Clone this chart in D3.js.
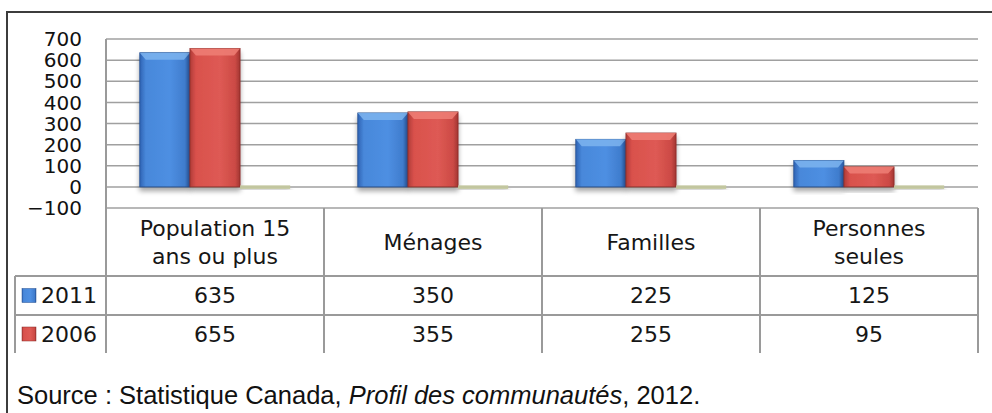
<!DOCTYPE html>
<html>
<head>
<meta charset="utf-8">
<script src="https://cdn.jsdelivr.net/npm/d3@7"></script>
<style>
  body { margin: 0; background: #fff; }
  svg { display: block; }
</style>
</head>
<body>
<div id="chart"></div>
<script>
// donnees
var categories = ["Population 15\nans ou plus", "Ménages", "Familles", "Personnes\nseules"];
var annees = ["2011", "2006"];
var valeurs2011 = [635, 350, 225, 125];
var valeurs2006 = [655, 355, 255, 95];
var valeursVide = [0, 0, 0, 0];   // troisieme serie vide (trait plat)
var yTicks = [-100, 0, 100, 200, 300, 400, 500, 600, 700];

var W = 992, H = 413;
var plot = {left: 106, right: 978, top: 39, bottom: 208};
var rowHead = 276, row1 = 315, row2 = 353, legLeft = 15;

var svg = d3.select("#chart").append("svg")
  .attr("width", W).attr("height", H);

var defs = svg.append("defs");

function grad(id, stops) {
  var g = defs.append("linearGradient").attr("id", id)
    .attr("x1", "0%").attr("x2", "100%").attr("y1", "0%").attr("y2", "0%");
  stops.forEach(function(s) {
    g.append("stop").attr("offset", s[0]).attr("stop-color", s[1]);
  });
}
grad("gBleu", [[0, "#2f63b4"], [0.12, "#4888da"], [0.6, "#4e8fe2"], [0.9, "#3f7ccd"], [1, "#2a5aa3"]]);
grad("gRouge", [[0, "#b03c38"], [0.12, "#d9514c"], [0.6, "#de5a54"], [0.9, "#cc4a45"], [1, "#a23531"]]);

var f = defs.append("filter").attr("id", "ombre")
  .attr("x", "-20%").attr("y", "-20%").attr("width", "140%").attr("height", "150%");
f.append("feGaussianBlur").attr("in", "SourceAlpha").attr("stdDeviation", 2.5);
f.append("feOffset").attr("dx", 0).attr("dy", 4).attr("result", "b");
f.append("feComponentTransfer").append("feFuncA").attr("type", "linear").attr("slope", 0.35);
var m = f.append("feMerge");
m.append("feMergeNode");
m.append("feMergeNode").attr("in", "SourceGraphic");

// fond
svg.append("rect").attr("width", W).attr("height", H).attr("fill", "#fff");

// cadre exterieur
svg.append("path")
  .attr("d", "M7,413 L7,12 L992,12")
  .attr("fill", "none").attr("stroke", "#3c3c3c").attr("stroke-width", 2);

// echelles
var y = d3.scaleLinear().domain([-100, 700]).range([plot.bottom, plot.top]);
var x = d3.scaleBand().domain(d3.range(categories.length))
  .range([plot.left, plot.right]).paddingInner(0).paddingOuter(0);
var groupe = x.bandwidth() * 0.69;
var xs = d3.scaleBand().domain([0, 1, 2]).range([0, groupe]).padding(0);
function xCat(j) { return x(j) + (x.bandwidth() - groupe) / 2; }

// quadrillage
svg.append("g").selectAll("line").data(yTicks).join("line")
  .attr("x1", plot.left).attr("x2", plot.right)
  .attr("y1", function(d) { return y(d); }).attr("y2", function(d) { return y(d); })
  .attr("stroke", "#a0a0a0").attr("stroke-width", 1.5);

// etiquettes axe y
svg.append("g").selectAll("text").data(yTicks).join("text")
  .attr("x", 82).attr("y", function(d) { return y(d); })
  .attr("dy", "0.36em").attr("text-anchor", "end")
  .attr("font-family", "DejaVu Sans").attr("font-size", 20)
  .attr("fill", "#111")
  .text(function(d) { return d < 0 ? "\u2212" + Math.abs(d) : d; });

// barres
var series = [
  {vals: valeurs2011, fill: "url(#gBleu)", haut: "#7db4ef", bord: "#244f8f"},
  {vals: valeurs2006, fill: "url(#gRouge)", haut: "#ee7f76", bord: "#8c2c29"}
];
var gBars = svg.append("g");
series.forEach(function(s, i) {
  s.vals.forEach(function(v, j) {
    var x0 = xCat(j) + xs(i), bw = xs.bandwidth();
    var y0 = y(v), y1 = y(0);
    var g = gBars.append("g").attr("filter", "url(#ombre)");
    g.append("rect")
      .attr("x", x0).attr("y", y0).attr("width", bw).attr("height", y1 - y0)
      .attr("fill", s.fill).attr("stroke", s.bord).attr("stroke-width", 0.8);
    var b = Math.min(7, (y1 - y0) / 3);
    g.append("path")
      .attr("d", "M" + x0 + "," + y0 + " L" + (x0 + bw) + "," + y0 +
        " L" + (x0 + bw - 6) + "," + (y0 + b) + " L" + (x0 + 6) + "," + (y0 + b) + "Z")
      .attr("fill", s.haut).attr("opacity", 0.85);
  });
});
// serie vide
valeursVide.forEach(function(v, j) {
  var x0 = xCat(j) + xs(2);
  gBars.append("rect").attr("filter", "url(#ombre)")
    .attr("x", x0).attr("y", y(v) - 1.5).attr("width", xs.bandwidth()).attr("height", 3.5)
    .attr("fill", "#c2c69f");
});

// tableau de donnees
var lignes = svg.append("g").attr("stroke", "#9a9a9a").attr("stroke-width", 2);
lignes.append("line").attr("x1", plot.left).attr("x2", plot.left).attr("y1", plot.top).attr("y2", row2);
lignes.append("line").attr("x1", plot.right).attr("x2", plot.right).attr("y1", plot.bottom).attr("y2", row2);
lignes.append("line").attr("x1", legLeft).attr("x2", legLeft).attr("y1", rowHead).attr("y2", row2);
[rowHead, row1].forEach(function(yy) {
  lignes.append("line").attr("x1", legLeft).attr("x2", plot.right).attr("y1", yy).attr("y2", yy);
});
d3.range(1, categories.length).forEach(function(j) {
  lignes.append("line").attr("x1", x(j)).attr("x2", x(j)).attr("y1", plot.bottom).attr("y2", row2);
});

var police = "DejaVu Sans";
categories.forEach(function(c, j) {
  var parts = c.split("\n");
  var cx = x(j) + x.bandwidth() / 2;
  var cy = (plot.bottom + rowHead) / 2;
  var t = svg.append("text").attr("text-anchor", "middle")
    .attr("font-family", police).attr("font-size", 22).attr("fill", "#161616");
  parts.forEach(function(p, k) {
    t.append("tspan").attr("x", cx)
      .attr("y", cy + (k - (parts.length - 1) / 2) * 28)
      .attr("dy", "0.36em").text(p);
  });
});

[valeurs2011, valeurs2006].forEach(function(vals, i) {
  var top = i === 0 ? rowHead : row1, bot = i === 0 ? row1 : row2;
  var cy = (top + bot) / 2;
  vals.forEach(function(v, j) {
    svg.append("text").attr("x", x(j) + x.bandwidth() / 2).attr("y", cy)
      .attr("dy", "0.36em").attr("text-anchor", "middle")
      .attr("font-family", police).attr("font-size", 22).attr("fill", "#161616")
      .text(v);
  });
  // legende
  svg.append("rect").attr("x", 22).attr("y", cy - 7).attr("width", 14).attr("height", 14)
    .attr("fill", series[i].fill).attr("stroke", series[i].bord).attr("stroke-width", 0.5);
  svg.append("text").attr("x", 41).attr("y", cy).attr("dy", "0.36em")
    .attr("font-family", police).attr("font-size", 22).attr("fill", "#161616")
    .text(annees[i]);
});

// source
var src = svg.append("text").attr("x", 17).attr("y", 404)
  .attr("font-family", "Liberation Sans, Arial").attr("font-size", 25.5).attr("fill", "#111");
src.append("tspan").text("Source : Statistique Canada, ");
src.append("tspan").attr("font-style", "italic").text("Profil des communautés");
src.append("tspan").text(", 2012.");
</script>
</body>
</html>
